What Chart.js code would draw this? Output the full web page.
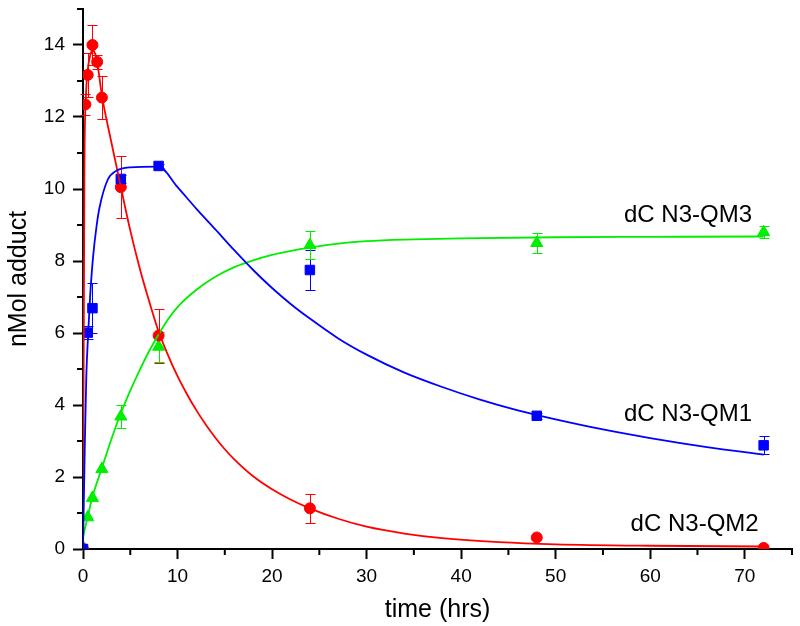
<!DOCTYPE html>
<html>
<head>
<meta charset="utf-8">
<script src="https://cdn.jsdelivr.net/npm/chart.js@4/dist/chart.umd.min.js"></script>
<style>
  html, body { margin: 0; padding: 0; background: #fff; }
  #wrap { width: 800px; height: 626px; }
</style>
</head>
<body>
<div id="wrap"><canvas id="adductChart"></canvas></div>
<script>
// measured points (time in hrs, nMol adduct, +/- error)
const timeQM1 = [0, 0.5, 1, 4, 8, 24, 48, 72];
const valQM1 = [0, 6.01, 6.69, 10.28, 10.64, 7.75, 3.7, 2.88];
const errQM1 = [0, 0.18, 0.7, 0.1, 0.05, 0.55, 0.08, 0.25];

const timeQM2 = [0, 0.25, 0.5, 1, 1.5, 2, 4, 8, 24, 48, 72];
const valQM2 = [0, 12.35, 13.17, 14.0, 13.53, 12.54, 10.05, 5.93, 1.13, 0.32, 0.03];
const errQM2 = [0, 0.3, 0.62, 0.55, 0.2, 0.6, 0.86, 0.75, 0.4, 0, 0];

const timeQM3 = [0, 0.5, 1, 2, 4, 8, 24, 48, 72];
const valQM3 = [0.05, 0.88, 1.42, 2.22, 3.68, 5.62, 8.44, 8.5, 8.8];
const errQM3 = [0, 0, 0, 0, 0.31, 0.42, 0.38, 0.28, 0.17];

// fitted curves
const fitTimeQM1 = [0, 0.2, 0.35, 0.53, 0.75, 1.06, 1.45, 1.76, 2.6, 3.5, 5, 8, 10, 12, 14, 16, 18, 20, 22, 24, 27, 30, 34, 38, 42, 46, 50, 55, 60, 66, 72];
const fitQM1 = [0, 3.0, 4.8, 5.9, 7.0, 8.1, 9.0, 9.5, 10.25, 10.5, 10.6, 10.62, 10.05, 9.45, 8.88, 8.3, 7.75, 7.25, 6.8, 6.4, 5.85, 5.4, 4.9, 4.5, 4.15, 3.85, 3.6, 3.32, 3.08, 2.83, 2.62];

const fitTimeQM2 = [0, 0.15, 0.3, 0.5, 0.8, 1, 1.3, 1.6, 2, 3, 4, 5, 6, 7, 8, 9, 10, 11, 12, 13, 14, 15, 16, 18, 20, 22, 24, 27, 30, 34, 38, 44, 50, 60, 72];
const fitQM2 = [0, 10.5, 12.5, 13.3, 13.75, 13.85, 13.75, 13.35, 12.6, 11.3, 10.06, 8.85, 7.8, 6.88, 6.04, 5.38, 4.8, 4.3, 3.85, 3.45, 3.09, 2.77, 2.49, 2.02, 1.66, 1.37, 1.13, 0.84, 0.62, 0.43, 0.3, 0.19, 0.13, 0.09, 0.07];

const fitTimeQM3 = [0, 0.5, 1, 2, 3, 4, 5, 6, 7, 8, 9, 10, 12, 14, 16, 18, 20, 22, 24, 27, 30, 35, 40, 50, 60, 72];
const fitQM3 = [0.34, 0.9, 1.45, 2.25, 3.05, 3.77, 4.4, 4.97, 5.5, 5.96, 6.38, 6.72, 7.2, 7.56, 7.83, 8.02, 8.17, 8.28, 8.37, 8.48, 8.55, 8.6, 8.63, 8.66, 8.67, 8.68];

// series names and where they sit (data units)
const seriesNames = ["dC N3-QM1", "dC N3-QM2", "dC N3-QM3"];
const nameX = [64, 64.7, 64];
const nameY = [3.73, 0.69, 9.28];

const colors = ["#0000ff", "#ff0000", "#00ee00"];
const FONT = "'Liberation Sans', Arial, sans-serif";

function pts(xs, ys) {
  return xs.map((t, i) => ({ x: t, y: ys[i] }));
}

const errorSets = [
  { t: timeQM1, v: valQM1, e: errQM1, color: colors[0] },
  { t: timeQM2, v: valQM2, e: errQM2, color: colors[1] },
  { t: timeQM3, v: valQM3, e: errQM3, color: colors[2] },
];

function curve(xs, ys, color) {
  return {
    data: pts(xs, ys),
    showLine: true,
    borderColor: color,
    borderWidth: 1.8,
    pointRadius: 0,
    cubicInterpolationMode: "monotone",
    fill: false,
  };
}

function marks(xs, ys, color, style, r) {
  return {
    data: pts(xs, ys),
    showLine: false,
    pointStyle: style,
    pointRadius: r,
    backgroundColor: color,
    borderColor: color,
    borderWidth: 1,
  };
}

const extras = {
  id: "extras",
  beforeDatasetsDraw(chart) {
    const { ctx, scales: { x, y } } = chart;
    errorSets.forEach((s) => {
      ctx.save();
      ctx.strokeStyle = s.color;
      ctx.lineWidth = 1;
      s.t.forEach((t, i) => {
        if (!s.e[i]) return;
        const px = Math.round(x.getPixelForValue(t)) + 0.5;
        const top = Math.round(y.getPixelForValue(s.v[i] + s.e[i])) + 0.5;
        const bot = Math.round(y.getPixelForValue(s.v[i] - s.e[i])) + 0.5;
        ctx.beginPath();
        ctx.moveTo(px, top); ctx.lineTo(px, bot);
        ctx.moveTo(px - 5, top); ctx.lineTo(px + 5, top);
        ctx.moveTo(px - 5, bot); ctx.lineTo(px + 5, bot);
        ctx.stroke();
      });
      ctx.restore();
    });
  },
  afterDraw(chart) {
    const { ctx, chartArea, scales: { x, y } } = chart;
    ctx.save();
    // minor ticks
    ctx.strokeStyle = "#000";
    ctx.lineWidth = 2;
    ctx.beginPath();
    for (let v = 1; v <= 15; v += 2) {
      const py = y.getPixelForValue(v);
      ctx.moveTo(chartArea.left - 6, py);
      ctx.lineTo(chartArea.left, py);
    }
    for (let v = 5; v <= 75; v += 10) {
      const px = x.getPixelForValue(v);
      ctx.moveTo(px, chartArea.bottom);
      ctx.lineTo(px, chartArea.bottom + 6);
    }
    ctx.stroke();
    // series names
    ctx.fillStyle = "#000";
    ctx.font = "24px " + FONT;
    ctx.textAlign = "center";
    ctx.textBaseline = "middle";
    seriesNames.forEach((n, i) => {
      ctx.fillText(n, x.getPixelForValue(nameX[i]), y.getPixelForValue(nameY[i]));
    });
    ctx.restore();
  },
};

const ctx = document.getElementById("adductChart").getContext("2d");
new Chart(ctx, {
  type: "scatter",
  data: {
    datasets: [
      curve(fitTimeQM1, fitQM1, colors[0]),
      curve(fitTimeQM2, fitQM2, colors[1]),
      curve(fitTimeQM3, fitQM3, colors[2]),
      marks(timeQM1, valQM1, colors[0], "rect", 6.7),
      marks(timeQM2, valQM2, colors[1], "circle", 5.5),
      marks(timeQM3, valQM3, colors[2], "triangle", 7),
    ],
  },
  options: {
    responsive: true,
    maintainAspectRatio: false,
    animation: false,
    layout: { padding: { top: 9, right: 8, left: 0, bottom: 0 } },
    plugins: { legend: { display: false }, tooltip: { enabled: false } },
    scales: {
      x: {
        type: "linear",
        min: 0,
        max: 75,
        afterFit: (s) => { s.height = 77; s.paddingLeft = 0; s.paddingRight = 0; },
        afterBuildTicks: (s) => { s.ticks = s.ticks.filter((t) => t.value % 10 === 0); },
        ticks: {
          stepSize: 10,
          color: "#000",
          font: { family: FONT, size: 19 },
          padding: 6,
          maxRotation: 0,
        },
        grid: {
          display: true,
          drawOnChartArea: false,
          tickLength: 10,
          tickWidth: 2,
          tickColor: "#000",
        },
        border: { display: true, color: "#000", width: 2 },
        title: {
          display: true,
          text: "time (hrs)",
          color: "#000",
          font: { family: FONT, size: 25 },
          padding: { top: 0, bottom: 1 },
        },
      },
      y: {
        type: "linear",
        min: 0,
        max: 15,
        afterFit: (s) => { s.width = 83; s.paddingTop = 0; s.paddingBottom = 0; },
        afterBuildTicks: (s) => { s.ticks = s.ticks.filter((t) => t.value % 2 === 0); },
        ticks: {
          stepSize: 2,
          color: "#000",
          font: { family: FONT, size: 19 },
          padding: 8,
        },
        grid: {
          display: true,
          drawOnChartArea: false,
          tickLength: 10,
          tickWidth: 2,
          tickColor: "#000",
        },
        border: { display: true, color: "#000", width: 2 },
        title: {
          display: true,
          text: "nMol adduct",
          color: "#000",
          font: { family: FONT, size: 25 },
          padding: { top: 4, bottom: 0 },
        },
      },
    },
  },
  plugins: [extras],
});
</script>
</body>
</html>
